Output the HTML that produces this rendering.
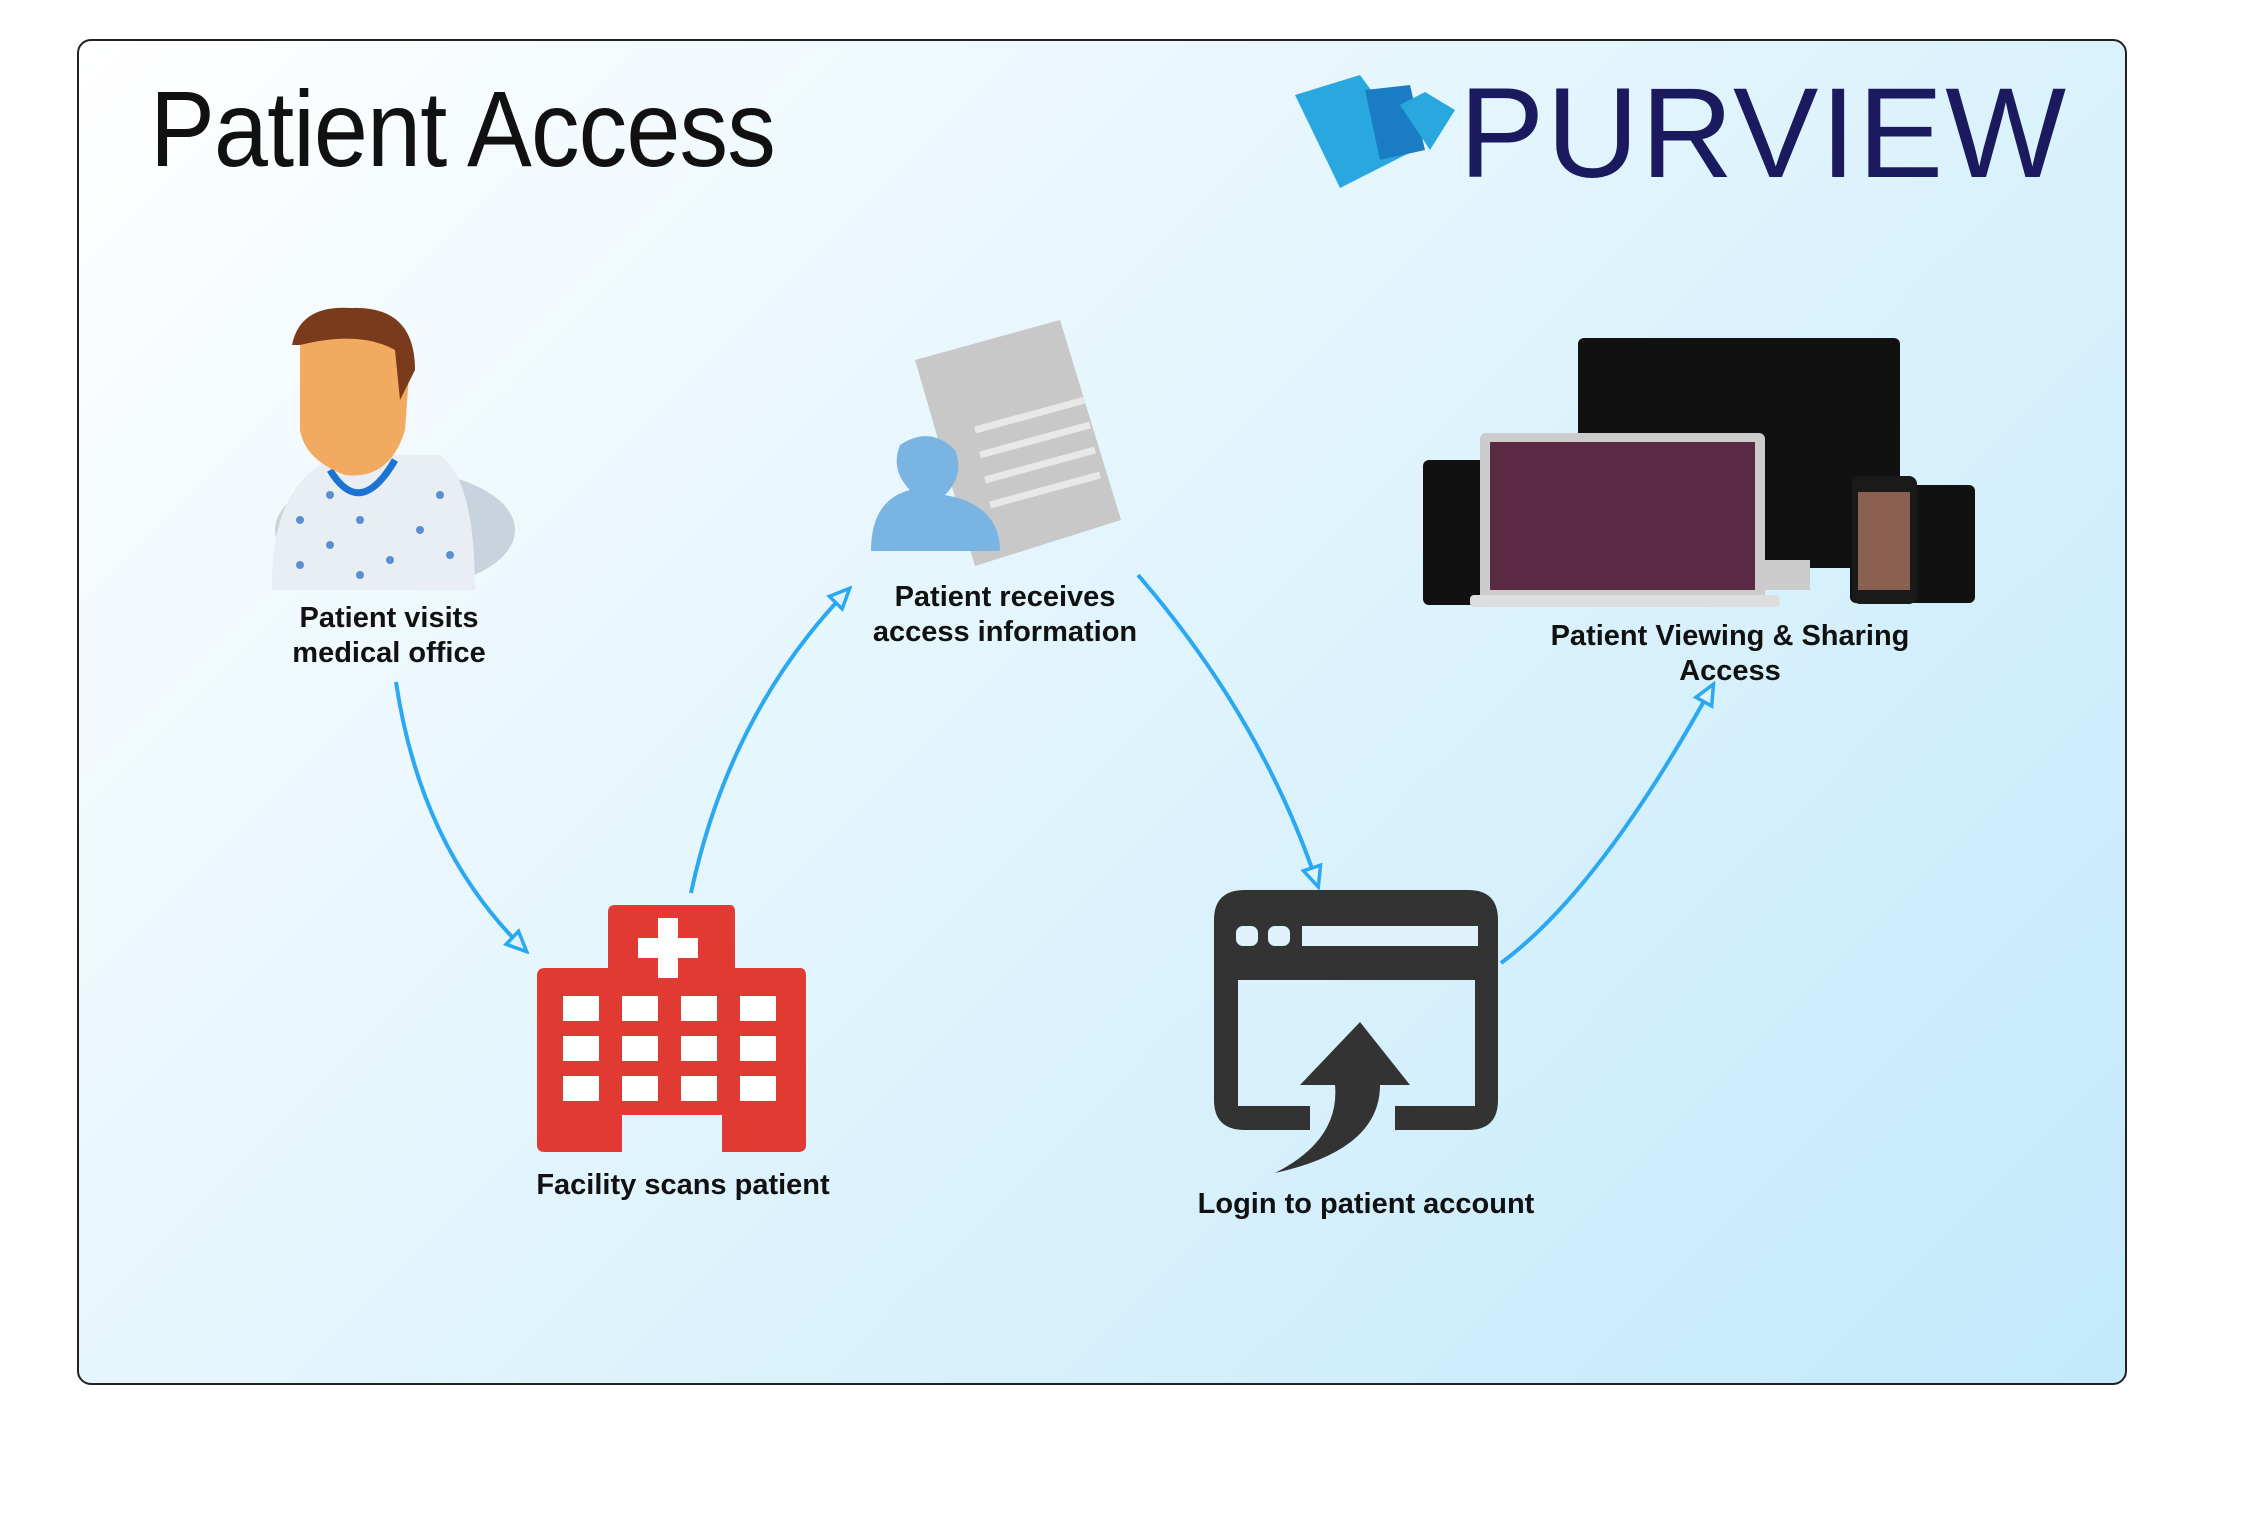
<!DOCTYPE html>
<html><head><meta charset="utf-8"><style>
html,body{margin:0;padding:0;background:#fff;}
body{width:2249px;height:1518px;position:relative;overflow:hidden;font-family:"Liberation Sans","DejaVu Sans",sans-serif;}
.box{position:absolute;left:77px;top:39px;width:2046px;height:1342px;border:2px solid #222;border-radius:14px;background:linear-gradient(135deg,#ffffff 0%,#e6f6fd 40%,#c3e9fb 100%);}
.t{position:absolute;font-weight:bold;font-size:29px;color:#111;text-align:center;line-height:35px;white-space:nowrap;}
</style></head><body>
<div class="box"></div>
<div style="position:absolute;left:150px;top:66px;font-size:108px;font-weight:300;color:#111;letter-spacing:-1px;transform:scaleX(0.9);transform-origin:0 0;">Patient Access</div>
<div style="position:absolute;left:1459px;top:60px;font-size:128px;color:#1c1a5e;letter-spacing:2px;">PURVIEW</div>
<svg width="2249" height="1518" style="position:absolute;left:0;top:0">
<defs>
<marker id="b" markerWidth="26" markerHeight="26" refX="22" refY="13" orient="auto" markerUnits="userSpaceOnUse"><path d="M3,4 L23,13 L3,22 Z" fill="#dff3fd" stroke="#2aa8f2" stroke-width="3.5"/></marker></defs>
<g transform="translate(-15,0)">
<polygon points="1310,95 1375,75 1430,150 1355,188" fill="#29a8e0"/>
<polygon points="1380,90 1425,85 1440,150 1395,160" fill="#1a7dc4"/>
<polygon points="1415,105 1440,92 1470,110 1445,150" fill="#29a8e0"/>
</g>
<g fill="none" stroke="#2aa8f2" stroke-width="4" marker-end="url(#b)">
<path d="M396,682 Q421,850 526,951"/>
<path d="M691,893 Q730,711 849,589"/>
<path d="M1138,575 Q1263,720 1318,886"/>
<path d="M1501,963 Q1600,890 1713,685"/>
</g>
<ellipse cx="395" cy="530" rx="120" ry="60" fill="#c9d3dd"/>
<path d="M272,590 Q270,480 340,455 L440,455 Q475,480 475,590 Z" fill="#e8eef3"/>
<g fill="#5a8fd0"><circle cx="300" cy="520" r="4"/><circle cx="330" cy="545" r="4"/><circle cx="360" cy="520" r="4"/><circle cx="420" cy="530" r="4"/><circle cx="450" cy="555" r="4"/><circle cx="300" cy="565" r="4"/><circle cx="390" cy="560" r="4"/><circle cx="440" cy="495" r="4"/><circle cx="330" cy="495" r="4"/><circle cx="360" cy="575" r="4"/></g>
<path d="M330,470 Q360,520 395,460" stroke="#1b74d1" stroke-width="7" fill="none"/>
<path d="M300,350 Q300,310 350,308 Q410,310 410,360 L405,430 Q390,480 345,475 Q305,460 300,430 Z" fill="#f2a960"/>
<path d="M292,345 Q300,305 350,308 Q415,305 415,370 L400,400 L395,350 Q360,330 300,345 Z" fill="#7a3b1c"/>
<polygon points="915,360 1060,320 1121,520 975,566" fill="#c8c8c8"/>
<g stroke="#e8e8e8" stroke-width="7"><line x1="975" y1="430" x2="1085" y2="400"/><line x1="980" y1="455" x2="1090" y2="425"/><line x1="985" y1="480" x2="1095" y2="450"/><line x1="990" y1="505" x2="1100" y2="475"/></g>
<path d="M871,551 Q871,500 910,490 Q890,470 900,445 Q930,425 955,450 Q965,475 945,495 Q1000,505 1000,551 Z" fill="#79b4e3"/>
<rect x="1578" y="338" width="322" height="230" rx="6" fill="#111"/>
<rect x="1660" y="560" width="150" height="30" fill="#ccc"/>
<rect x="1423" y="460" width="110" height="145" rx="6" fill="#111"/>
<rect x="1480" y="433" width="285" height="170" rx="6" fill="#ccc"/>
<rect x="1490" y="442" width="265" height="148" fill="#5a2a45"/>
<rect x="1470" y="595" width="310" height="12" rx="4" fill="#ddd"/>
<rect x="1850" y="485" width="125" height="118" rx="6" fill="#111"/>
<rect x="1852" y="476" width="65" height="128" rx="8" fill="#1a1a1a"/>
<rect x="1858" y="492" width="52" height="98" fill="#8a6050"/>
<path d="M610,905 L730,905 Q735,905 735,912 L735,968 L800,968 Q806,968 806,976 L806,1145 Q806,1152 798,1152 L722,1152 L722,1115 L622,1115 L622,1152 L545,1152 Q537,1152 537,1145 L537,976 Q537,968 545,968 L608,968 L608,912 Q608,905 615,905 Z" fill="#e03a33"/>
<g fill="#fff"><rect x="658" y="918" width="20" height="60"/><rect x="638" y="938" width="60" height="20"/></g>
<g fill="#fff">
<rect x="563" y="996" width="36" height="25"/><rect x="622" y="996" width="36" height="25"/><rect x="681" y="996" width="36" height="25"/><rect x="740" y="996" width="36" height="25"/>
<rect x="563" y="1036" width="36" height="25"/><rect x="622" y="1036" width="36" height="25"/><rect x="681" y="1036" width="36" height="25"/><rect x="740" y="1036" width="36" height="25"/>
<rect x="563" y="1076" width="36" height="25"/><rect x="622" y="1076" width="36" height="25"/><rect x="681" y="1076" width="36" height="25"/><rect x="740" y="1076" width="36" height="25"/></g>
<path d="M1245,890 L1468,890 Q1498,890 1498,920 L1498,1100 Q1498,1130 1468,1130 L1395,1130 L1395,1106 L1475,1106 L1475,980 L1238,980 L1238,1106 L1310,1106 L1310,1130 L1245,1130 Q1214,1130 1214,1100 L1214,920 Q1214,890 1245,890 Z" fill="#333"/>
<rect x="1236" y="926" width="22" height="20" rx="7" fill="#dff2fc"/><rect x="1268" y="926" width="22" height="20" rx="7" fill="#dff2fc"/><rect x="1302" y="926" width="176" height="20" fill="#dff2fc"/>
<path d="M1300,1085 L1360,1022 L1410,1085 L1380,1085 Q1380,1150 1275,1173 Q1340,1140 1335,1085 Z" fill="#333"/>
</svg>
<div class="t" style="left:269px;top:601px;width:240px;">Patient visits<br>medical office</div>
<div class="t" style="left:845px;top:580px;width:320px;">Patient receives<br>access information</div>
<div class="t" style="left:1500px;top:619px;width:460px;">Patient Viewing &amp; Sharing<br>Access</div>
<div class="t" style="left:503px;top:1168px;width:360px;">Facility scans patient</div>
<div class="t" style="left:1166px;top:1187px;width:400px;">Login to patient account</div>
</body></html>
